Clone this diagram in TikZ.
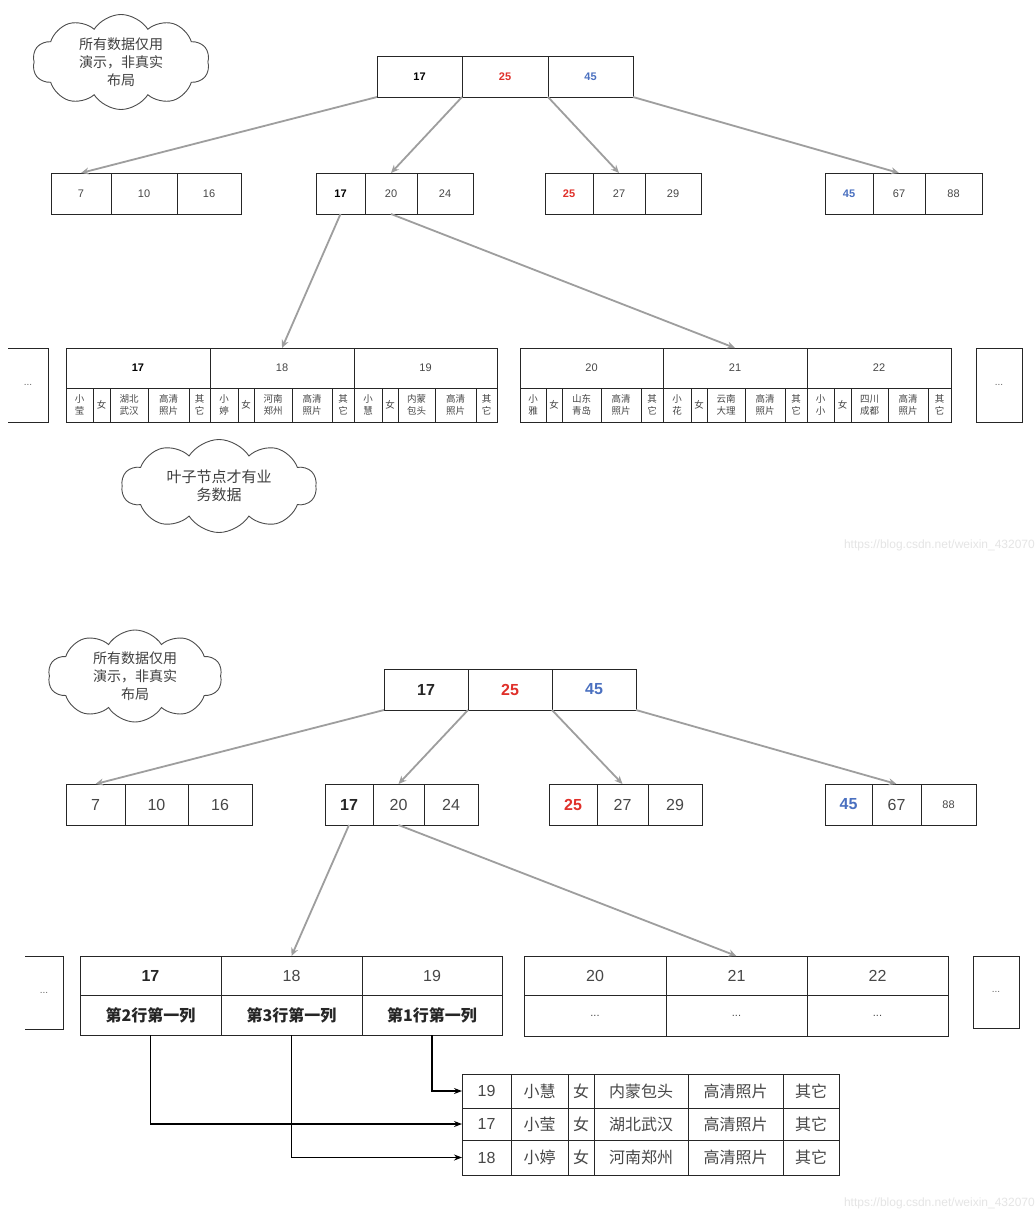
\documentclass[tikz,border=0pt]{standalone}
\usepackage{fontspec}
\setmainfont{Liberation Sans}
\newfontfamily\cjk{Noto Sans CJK SC}
\usetikzlibrary{arrows.meta,shapes.symbols}
\definecolor{kred}{HTML}{E0302A}
\definecolor{kblue}{HTML}{4A70C0}
\tikzset{
  cellsty/.style={draw=black!85, line width=0.8pt, inner sep=0pt, outer sep=0pt, text=black!72, align=center},
  fa/.style={font=\fontsize{11}{13}\selectfont},
  fs/.style={font=\cjk\fontsize{9.5}{12}\selectfont},
  fb/.style={font=\fontsize{16}{19}\selectfont},
  ft/.style={font=\cjk\fontsize{16}{19}\selectfont},
  garrow/.style={draw=black!38, line width=1.8pt, -{Stealth[length=8pt,width=7pt]}},
  barrow/.style={draw=black, line width=1.1pt, -{Stealth[length=8pt,width=6pt]}},
  cloudsty/.style={cloud, draw=black!70, line width=0.9pt, cloud puffs=10, cloud puff arc=115, cloud ignores aspect, inner sep=0pt, text=black!75, align=center, font=\cjk\fontsize{14}{18}\selectfont},
  dotbox/.style={inner sep=0pt, outer sep=0pt, text=black!60, font=\fontsize{10}{12}\selectfont},
  wm/.style={text=black!10, font=\fontsize{12}{14}\selectfont, inner sep=0pt}
}
\newcommand\mycell[7][]{\pgfmathsetmacro\cw{#5-#3}\pgfmathsetmacro\ch{#6-#4}%
  \node[cellsty,minimum width=\cw pt,minimum height=\ch pt,anchor=north west,#1] (#2) at (#3,#4) {#7};}
\begin{document}
\begin{tikzpicture}[x=1pt,y=-1pt]
\useasboundingbox[fill=white] (0,0) rectangle (1035,1212);

%% ================= TOP SECTION =================
\node[cloudsty, minimum width=177pt, minimum height=95pt] (c1) at (121,62) {所有数据仅用\\演示，非真实\\布局};

% root
\mycell[fa]{r1}{377}{56}{462}{97}{\textbf{\color{black}17}}
\mycell[fa]{r2}{462}{56}{548}{97}{\textbf{\color{kred}25}}
\mycell[fa]{r3}{548}{56}{633}{97}{\textbf{\color{kblue}45}}

% level 2
\mycell[fa]{a1}{51}{173}{111}{214}{7}
\mycell[fa]{a2}{111}{173}{177}{214}{10}
\mycell[fa]{a3}{177}{173}{241}{214}{16}
\mycell[fa]{b1}{316}{173}{365}{214}{\textbf{\color{black}17}}
\mycell[fa]{b2}{365}{173}{417}{214}{20}
\mycell[fa]{b3}{417}{173}{473}{214}{24}
\mycell[fa]{c1a}{545}{173}{593}{214}{\textbf{\color{kred}25}}
\mycell[fa]{c2}{593}{173}{645}{214}{27}
\mycell[fa]{c3}{645}{173}{701}{214}{29}
\mycell[fa]{d1}{825}{173}{873}{214}{\textbf{\color{kblue}45}}
\mycell[fa]{d2}{873}{173}{925}{214}{67}
\mycell[fa]{d3}{925}{173}{982}{214}{88}

% leaves
\node[dotbox, minimum width=40pt, minimum height=74pt, anchor=north west] (lm) at (8,348) {...};
\draw[black!85, line width=0.8pt] (lm.north west) -- (lm.north east) -- (lm.south east) -- (lm.south west);
\node[dotbox, draw=black!85, line width=0.8pt, minimum width=46pt, minimum height=74pt, anchor=north west] (rm) at (976,348) {...};

\mycell[fa]{l17}{66}{348}{210}{388}{\textbf{\color{black}17}}
\mycell[fa]{l18}{210}{348}{354}{388}{18}
\mycell[fa]{l19}{354}{348}{497}{388}{19}
\mycell[fa]{l20}{520}{348}{663}{388}{20}
\mycell[fa]{l21}{663}{348}{807}{388}{21}
\mycell[fa]{l22}{807}{348}{951}{388}{22}

\mycell[fs]{p1}{66}{388}{93}{422}{小\\莹}
\mycell[fs]{p2}{93}{388}{110}{422}{女}
\mycell[fs]{p3}{110}{388}{148}{422}{湖北\\武汉}
\mycell[fs]{p4}{148}{388}{189}{422}{高清\\照片}
\mycell[fs]{p5}{189}{388}{210}{422}{其\\它}
\mycell[fs]{p6}{210}{388}{238}{422}{小\\婷}
\mycell[fs]{p7}{238}{388}{254}{422}{女}
\mycell[fs]{p8}{254}{388}{292}{422}{河南\\郑州}
\mycell[fs]{p9}{292}{388}{332}{422}{高清\\照片}
\mycell[fs]{p10}{332}{388}{354}{422}{其\\它}
\mycell[fs]{p11}{354}{388}{382}{422}{小\\慧}
\mycell[fs]{p12}{382}{388}{398}{422}{女}
\mycell[fs]{p13}{398}{388}{435}{422}{内蒙\\包头}
\mycell[fs]{p14}{435}{388}{476}{422}{高清\\照片}
\mycell[fs]{p15}{476}{388}{497}{422}{其\\它}
\mycell[fs]{q1}{520}{388}{546}{422}{小\\雅}
\mycell[fs]{q2}{546}{388}{562}{422}{女}
\mycell[fs]{q3}{562}{388}{601}{422}{山东\\青岛}
\mycell[fs]{q4}{601}{388}{641}{422}{高清\\照片}
\mycell[fs]{q5}{641}{388}{663}{422}{其\\它}
\mycell[fs]{q6}{663}{388}{691}{422}{小\\花}
\mycell[fs]{q7}{691}{388}{707}{422}{女}
\mycell[fs]{q8}{707}{388}{745}{422}{云南\\大理}
\mycell[fs]{q9}{745}{388}{785}{422}{高清\\照片}
\mycell[fs]{q10}{785}{388}{807}{422}{其\\它}
\mycell[fs]{q11}{807}{388}{834}{422}{小\\小}
\mycell[fs]{q12}{834}{388}{851}{422}{女}
\mycell[fs]{q13}{851}{388}{888}{422}{四川\\成都}
\mycell[fs]{q14}{888}{388}{928}{422}{高清\\照片}
\mycell[fs]{q15}{928}{388}{951}{422}{其\\它}

\node[cloudsty, minimum width=195pt, minimum height=93pt, font=\cjk\fontsize{15}{18}\selectfont] (c2cl) at (219,486) {叶子节点才有业\\务数据};

% top arrows
\draw[garrow] (r1.south west) -- (a1.north);
\draw[garrow] (r1.south east) -- (b2.north);
\draw[garrow] (r2.south east) -- (c2.north);
\draw[garrow] (r3.south east) -- (d2.north);
\draw[garrow] (b1.south) -- (l18.north);
\draw[garrow] (b2.south) -- (l21.north);

\node[wm, anchor=east] (wm1) at (1035,545) {https://blog.csdn.net/weixin\_432070};

%% ================= BOTTOM SECTION =================
\node[cloudsty, minimum width=174pt, minimum height=92pt] (c3) at (135,676) {所有数据仅用\\演示，非真实\\布局};

\mycell[fb]{R1}{384}{669}{468}{710}{\textbf{\color{black!85}17}}
\mycell[fb]{R2}{468}{669}{552}{710}{\textbf{\color{kred}25}}
\mycell[fb]{R3}{552}{669}{636}{710}{\textbf{\color{kblue}45}}

\mycell[fb]{A1}{66}{784}{125}{825}{7}
\mycell[fb]{A2}{125}{784}{188}{825}{10}
\mycell[fb]{A3}{188}{784}{252}{825}{16}
\mycell[fb]{B1}{325}{784}{373}{825}{\textbf{\color{black!85}17}}
\mycell[fb]{B2}{373}{784}{424}{825}{20}
\mycell[fb]{B3}{424}{784}{478}{825}{24}
\mycell[fb]{C1}{549}{784}{597}{825}{\textbf{\color{kred}25}}
\mycell[fb]{C2}{597}{784}{648}{825}{27}
\mycell[fb]{C3}{648}{784}{702}{825}{29}
\mycell[fb]{D1}{825}{784}{872}{825}{\textbf{\color{kblue}45}}
\mycell[fb]{D2}{872}{784}{921}{825}{67}
\mycell[fa]{D3}{921}{784}{976}{825}{88}

\node[dotbox, minimum width=38pt, minimum height=73pt, anchor=north west] (LM) at (25,956) {...};
\draw[black!85, line width=0.8pt] (LM.north west) -- (LM.north east) -- (LM.south east) -- (LM.south west);
\node[dotbox, draw=black!85, line width=0.8pt, minimum width=46pt, minimum height=72pt, anchor=north west] (RM) at (973,956) {...};

\mycell[fb]{L17}{80}{956}{221}{995}{\textbf{\color{black!85}17}}
\mycell[fb]{L18}{221}{956}{362}{995}{18}
\mycell[fb]{L19}{362}{956}{502}{995}{19}
\mycell[ft]{S1}{80}{995}{221}{1035}{\textbf{\color{black!85}第2行第一列}}
\mycell[ft]{S2}{221}{995}{362}{1035}{\textbf{\color{black!85}第3行第一列}}
\mycell[ft]{S3}{362}{995}{502}{1035}{\textbf{\color{black!85}第1行第一列}}
\mycell[fb]{L20}{524}{956}{666}{995}{20}
\mycell[fb]{L21}{666}{956}{807}{995}{21}
\mycell[fb]{L22}{807}{956}{948}{995}{22}
\mycell[fa]{S4}{524}{995}{666}{1036}{...}
\mycell[fa]{S5}{666}{995}{807}{1036}{...}
\mycell[fa]{S6}{807}{995}{948}{1036}{...}

% table
\mycell[fb]{T1a}{462}{1074}{511}{1108}{19}
\mycell[ft]{T1b}{511}{1074}{568}{1108}{小慧}
\mycell[ft]{T1c}{568}{1074}{594}{1108}{女}
\mycell[ft]{T1d}{594}{1074}{688}{1108}{内蒙包头}
\mycell[ft]{T1e}{688}{1074}{783}{1108}{高清照片}
\mycell[ft]{T1f}{783}{1074}{839}{1108}{其它}
\mycell[fb]{T2a}{462}{1108}{511}{1140}{17}
\mycell[ft]{T2b}{511}{1108}{568}{1140}{小莹}
\mycell[ft]{T2c}{568}{1108}{594}{1140}{女}
\mycell[ft]{T2d}{594}{1108}{688}{1140}{湖北武汉}
\mycell[ft]{T2e}{688}{1108}{783}{1140}{高清照片}
\mycell[ft]{T2f}{783}{1108}{839}{1140}{其它}
\mycell[fb]{T3a}{462}{1140}{511}{1175}{18}
\mycell[ft]{T3b}{511}{1140}{568}{1175}{小婷}
\mycell[ft]{T3c}{568}{1140}{594}{1175}{女}
\mycell[ft]{T3d}{594}{1140}{688}{1175}{河南郑州}
\mycell[ft]{T3e}{688}{1140}{783}{1175}{高清照片}
\mycell[ft]{T3f}{783}{1140}{839}{1175}{其它}

% bottom arrows
\draw[garrow] (R1.south west) -- (A1.north);
\draw[garrow] (R1.south east) -- (B2.north);
\draw[garrow] (R2.south east) -- (C2.north);
\draw[garrow] (R3.south east) -- (D2.north);
\draw[garrow] (B1.south) -- (L18.north);
\draw[garrow] (B2.south) -- (L21.north);

\draw[barrow] (S1.south) |- (T2a.west);
\draw[barrow] (S2.south) |- (T3a.west);
\draw[barrow] (S3.south) |- (T1a.west);

\node[wm, anchor=east] (wm2) at (1035,1203) {https://blog.csdn.net/weixin\_432070};
\end{tikzpicture}
\end{document}
